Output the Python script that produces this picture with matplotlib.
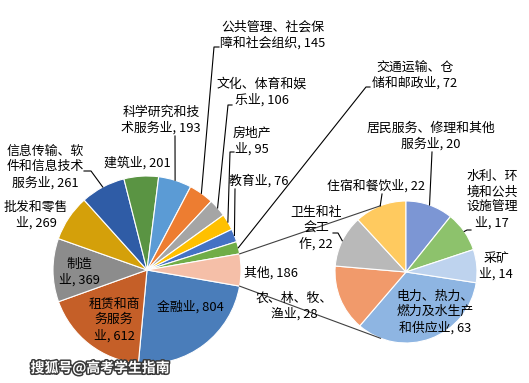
import numpy as np
import matplotlib.pyplot as plt
import matplotlib.patheffects as pe

plt.rcParams['font.family'] = ['Noto Sans CJK SC', 'DejaVu Sans']

# main pie (clockwise, starting just below 3 o'clock), "其他" is split out
main_names = ['金融业', '租赁和商\n务服务\n业', '制造\n业', '批发和零售\n业', '信息传输、软\n件和信息技术\n服务业',
              '建筑业', '科学研究和技\n术服务业', '公共管理、社会保\n障和社会组织', '文化、体育和娱\n乐业',
              '房地产\n业', '教育业', '交通运输、仓\n储和邮政业']
main_values = [804, 612, 369, 269, 261, 201, 193, 145, 106, 95, 76, 72]

# secondary pie
sub_names = ['电力、热力、\n燃力及水生产\n和供应业', '农、林、牧、\n渔业', '卫生和社\n会工\n作', '住宿和餐饮业',
             '居民服务、修理和其他\n服务业', '水利、环\n境和公共\n设施管理\n业', '采矿\n业']
sub_values = [63, 28, 22, 22, 20, 17, 14]
other_name = '其他'

main_colors = ['#4A7DBA', '#C55F28', '#8C8C8C', '#D4A00A', '#2F5CA6', '#5A9443', '#5B9BD5',
               '#ED7D31', '#A5A5A5', '#FFC000', '#4472C4', '#70AD47', '#F5BFA8']
sub_colors = ['#8EB5E2', '#F19A6B', '#B9B9B9', '#FFCA5F', '#7C96D4', '#8DC26C', '#BED3EE']

W, H = 529, 383

# layout (image pixel coords, y from top)
main_center, main_r = (147, 270), 94
sub_center, sub_r = (406, 272), 71
main_label_pos = [(190, 307), (114, 320), (79, 272), (36, 215), (45, 167), (137, 163), (161, 120),
                  (273, 35), (262, 92), (252, 141), (259, 181), (415, 75)]
other_label_pos = (271, 273)
sub_label_pos = [(435, 312), (294, 306), (316, 228), (376, 186), (431, 136), (492, 200), (496, 266)]
main_leaders = {4: [(84, 171), (91, 171)], 6: [(175, 136)], 7: [(219, 47), (214, 47)],
                8: [(232, 105), (228, 105)], 9: [(234, 152), (230, 152)], 10: [(235, 189)],
                11: [(370, 87), (366, 87)]}
sub_leaders = {2: [(333, 233), (338, 233)], 3: [(382, 194)], 4: [(432, 152)], 5: [(471, 230), (467, 230)]}

fig = plt.figure(figsize=(W / 100, H / 100), dpi=100)
ax = fig.add_axes([0, 0, 1, 1])


def fy(y):
    return H - y


other_total = sum(sub_values)
values = main_values + [other_total]
total = sum(values)
start = other_total / total * 180  # centre "其他" on the right
ax.pie(values, colors=main_colors, startangle=-start, counterclock=False,
       center=(main_center[0], fy(main_center[1])), radius=main_r,
       wedgeprops=dict(edgecolor='white', linewidth=0.8))

sub_start = 90 - sum(sub_values[4:]) / other_total * 360
ax.pie(sub_values, colors=sub_colors, startangle=sub_start, counterclock=False,
       center=(sub_center[0], fy(sub_center[1])), radius=sub_r,
       wedgeprops=dict(edgecolor='white', linewidth=0.8))


def edge_point(center, r, ang):
    a = np.radians(ang)
    return center[0] + r * np.cos(a), fy(center[1]) + r * np.sin(a)


# mid angles of wedges
cum = np.concatenate([[0], np.cumsum(values)])
main_mid = -start - (cum[:-1] + cum[1:]) / 2 / total * 360
scum = np.concatenate([[0], np.cumsum(sub_values)])
sub_mid = sub_start - (scum[:-1] + scum[1:]) / 2 / other_total * 360

# connector lines between the two pies
for s in (1, -1):
    p1 = edge_point(main_center, main_r, s * start)
    p2 = edge_point(sub_center, sub_r, s * 111)
    ax.plot([p1[0], p2[0]], [p1[1], p2[1]], color='#404040', lw=0.8)

for i, pts in main_leaders.items():
    end = edge_point(main_center, main_r, main_mid[i])
    xs = [p[0] for p in pts] + [end[0]]
    ys = [fy(p[1]) for p in pts] + [end[1]]
    ax.plot(xs, ys, color='black', lw=0.8)

for i, pts in sub_leaders.items():
    end = edge_point(sub_center, sub_r, sub_mid[i])
    xs = [p[0] for p in pts] + [end[0]]
    ys = [fy(p[1]) for p in pts] + [end[1]]
    ax.plot(xs, ys, color='black', lw=0.8)

fs = 9.3
for name, v, (x, y) in zip(main_names, main_values, main_label_pos):
    ax.text(x, fy(y), f'{name}, {v}', ha='center', va='center', fontsize=fs,
            linespacing=1.25, multialignment='center')
ax.text(other_label_pos[0], fy(other_label_pos[1]), f'{other_name}, {other_total}',
        ha='center', va='center', fontsize=fs)
for name, v, (x, y) in zip(sub_names, sub_values, sub_label_pos):
    ax.text(x, fy(y), f'{name}, {v}', ha='center', va='center', fontsize=fs,
            linespacing=1.25, multialignment='center')

ax.text(100, fy(368), '搜狐号@高考学生指南', ha='center', va='center', fontsize=10,
        color='white', fontweight='bold',
        path_effects=[pe.withStroke(linewidth=2.2, foreground='#3a3a3a')])

ax.set_xlim(0, W)
ax.set_ylim(0, H)
ax.set_aspect('auto')
ax.axis('off')
fig.savefig('out.png', dpi=100)
